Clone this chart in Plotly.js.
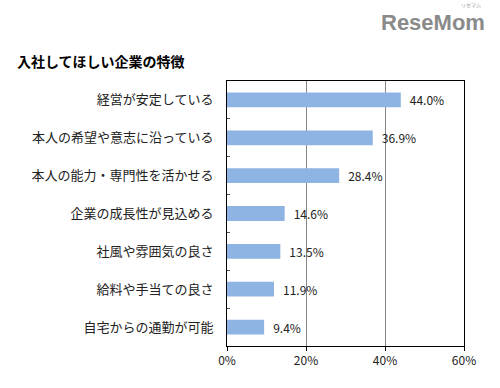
<!DOCTYPE html>
<html><head><meta charset="utf-8">
<script src="https://cdn.plot.ly/plotly-3.0.1.min.js"></script>
<style>body{margin:0;background:#fff}#c{width:500px;height:388px}</style>
</head><body><div id="c"></div>
<script>
const categories = ["経営が安定している","本人の希望や意志に沿っている","本人の能力・専門性を活かせる","企業の成長性が見込める","社風や雰囲気の良さ","給料や手当ての良さ","自宅からの通勤が可能"];
const values = [44.0, 36.9, 28.4, 14.6, 13.5, 11.9, 9.4];
const tickVals = [0, 20, 40, 60];
const tickText = ["0%","20%","40%","60%"];
const titleText = "入社してほしい企業の特徴";

const font = "'Noto Sans CJK JP', sans-serif";
Plotly.newPlot("c", [{
  type: "bar", orientation: "h",
  x: values, y: categories,
  marker: {color: "#8EB4E3", line: {width: 0}},
  width: 0.39,
  text: values.map(v => "\u2002" + v.toFixed(1) + "%"),
  textposition: "outside",
  constraintext: "none",
  textfont: {family: font, size: 12, color: "#222"},
  cliponaxis: false,
  hoverinfo: "none"
}], {
  width: 500, height: 388,
  margin: {l: 227, r: 36, t: 81, b: 42},
  paper_bgcolor: "#fff", plot_bgcolor: "#fff",
  showlegend: false,
  xaxis: {range: [0, 60], tickvals: tickVals, ticktext: tickText,
    showgrid: true, gridcolor: "#868686", gridwidth: 1,
    showline: true, linecolor: "#000", linewidth: 1, mirror: true,
    ticks: "outside", ticklen: 4, tickcolor: "#000",
    zeroline: false, fixedrange: true,
    tickfont: {family: font, size: 12, color: "#222"}},
  yaxis: {autorange: "reversed", type: "category",
    showline: true, linecolor: "#000", linewidth: 1, mirror: true,
    ticks: "inside", tickson: "boundaries", ticklen: 3, tickcolor: "#555",
    showgrid: false, ticklabelstandoff: 10,
    tickfont: {family: font, size: 13, color: "#222"}},
  title: {text: "<b>" + titleText + "</b>", x: 0.034, xref: "container", xanchor: "left",
    y: 0.84, yref: "container", yanchor: "middle", font: {family: font, size: 14, color: "#000"}},
  annotations: [
    {text: "<b>ReseMom</b>", xref: "paper", yref: "paper", x: 1.095, y: 1.22,
     xanchor: "right", yanchor: "middle", showarrow: false,
     font: {family: "'Liberation Sans', Arial, sans-serif", size: 22, color: "#8a8a8a"}},
    {text: "リセマム", xref: "paper", yref: "paper", x: 1.08, y: 1.265,
     xanchor: "right", yanchor: "bottom", showarrow: false,
     font: {family: font, size: 5, color: "#999"}}
  ]
}, {staticPlot: true});
</script></body></html>
